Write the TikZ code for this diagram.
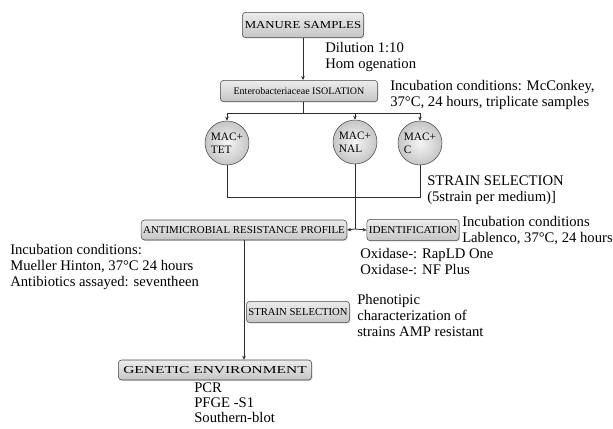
\documentclass[tikz,border=0pt]{standalone}
\usepackage{fontspec}
\setmainfont{Liberation Serif}
\usetikzlibrary{arrows.meta,shadows}

\begin{document}
\begin{tikzpicture}[x=0.75pt,y=-0.75pt,
	stagebox/.style={draw=gray!55!black,rounded corners=2.5pt,top color=gray!15,bottom color=gray!45,
		drop shadow={opacity=0.25,shadow xshift=0.8pt,shadow yshift=-0.8pt},
		font=\fontsize{8}{9}\selectfont,inner sep=1.5pt,minimum height=16pt},
	stretch/.style={font=\fontsize{8}{9}\selectfont\addfontfeature{FakeStretch=#1}},
	medium/.style={circle,draw=gray!55!black,inner color=gray!8,outer color=gray!45,
		minimum size=33pt,inner sep=0pt,align=left,font=\fontsize{8.5}{9.5}\selectfont},
	note/.style={anchor=north west,align=left,inner sep=0pt,font=\fontsize{11}{12}\selectfont},
	link/.style={draw=gray!35!black,line width=0.6pt},
	arr/.style={link,-{Stealth[length=3pt,width=2.6pt]}}]
	\useasboundingbox (0,0) rectangle (613,428);
	% stages
	\node[stagebox,stretch=1.2,minimum width=91pt,minimum height=19pt] (manure) at (303,25) {MANURE SAMPLES};
	\node[stagebox,font=\fontsize{7.5}{8}\selectfont,minimum width=118pt] (isol) at (299,91) {Enterobacteriaceae ISOLATION};
	\node[medium] (tet) at (227,143) {MAC+\\TET};
	\node[medium] (nal) at (355,142) {MAC+\\NAL};
	\node[medium] (cc) at (420,143) {MAC+\\C};
	\node[stagebox,stretch=1.02,minimum width=151pt,minimum height=15pt] (amr) at (244,230) {ANTIMICROBIAL RESISTANCE PROFILE};
	\node[stagebox,stretch=1.05,minimum width=67pt] (ident) at (413,230) {IDENTIFICATION};
	\node[stagebox,minimum width=74pt] (sel) at (298,312) {STRAIN SELECTION};
	\node[stagebox,stretch=1.45,minimum width=145pt,minimum height=15pt] (gen) at (215,370) {GENETIC ENVIRONMENT};
	% notes
	\node[note] (dil) at (325,42) {Dilution 1:10\\Hom ogenation};
	\node[note] (mcc) at (390,80) {Incubation conditions: McConkey,\\37°C, 24 hours, triplicate samples};
	\node[note] (five) at (427,176) {STRAIN SELECTION\\(5strain per medium)]};
	\node[note] (lab) at (462,216) {Incubation conditions\\Lablenco, 37°C, 24 hours};
	\node[note] (oxi) at (360,248) {Oxidase-: RapLD One\\Oxidase-: NF Plus};
	\node[note] (mue) at (10,244) {Incubation conditions:\\Mueller Hinton, 37°C 24 hours\\Antibiotics assayed: seventheen};
	\node[note] (phe) at (357,294) {Phenotipic\\characterization of\\strains AMP resistant};
	\node[note,font=\fontsize{11}{11}\selectfont] (pcr) at (194,383) {PCR\\PFGE -S1\\Southern-blot};
	% connectors
	\coordinate (split) at (303,113);
	\coordinate (merge) at (355,197);
	\coordinate (fork) at (355,229);
	\draw[arr] (manure.south) -- (manure.south |- isol.north);
	\draw[link] (split |- isol.south) -- (split);
	\draw[arr] (split) -| (tet.north);
	\draw[arr] (split) -| (nal.north);
	\draw[arr] (split) -| (cc.north);
	\draw[link] (tet.south) |- (merge);
	\draw[link] (cc.south) |- (merge);
	\draw[link] (nal.south) -- (fork);
	\draw[arr] (fork) -- (amr.east);
	\draw[arr] (fork) -- (ident.west);
	\draw[arr] (amr.south) -- (amr.south |- gen.north);
\end{tikzpicture}
\end{document}
